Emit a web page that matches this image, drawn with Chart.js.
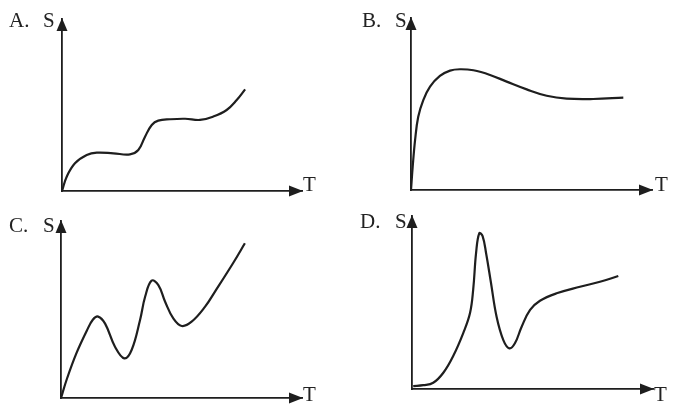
<!DOCTYPE html>
<html>
<head>
<meta charset="utf-8">
<script src="https://cdn.jsdelivr.net/npm/chart.js@4.4.0/dist/chart.umd.min.js"></script>
<style>
  html, body { margin: 0; padding: 0; background: #fff; }
  #page { position: relative; width: 679px; height: 412px; overflow: hidden; background: #fff; }
  .panel { position: absolute; }
  .lbl {
    position: absolute;
    font-family: "Liberation Serif", "DejaVu Serif", serif;
    font-size: 21px;
    line-height: 21px;
    color: #222;
    white-space: nowrap;
  }
</style>
</head>
<body>
<div id="page">
  <canvas id="chartA" class="panel" width="340" height="206" style="left:0;top:0"></canvas>
  <canvas id="chartB" class="panel" width="339" height="206" style="left:340px;top:0"></canvas>
  <canvas id="chartC" class="panel" width="340" height="206" style="left:0;top:206px"></canvas>
  <canvas id="chartD" class="panel" width="339" height="206" style="left:340px;top:206px"></canvas>

  <span class="lbl" style="left:9px;top:10px">A.</span>
  <span class="lbl" style="left:43px;top:10px">S</span>
  <span class="lbl" style="left:303px;top:174px">T</span>

  <span class="lbl" style="left:362px;top:10px">B.</span>
  <span class="lbl" style="left:395px;top:10px">S</span>
  <span class="lbl" style="left:655px;top:174px">T</span>

  <span class="lbl" style="left:9px;top:215px">C.</span>
  <span class="lbl" style="left:43px;top:215px">S</span>
  <span class="lbl" style="left:303px;top:384px">T</span>

  <span class="lbl" style="left:360px;top:211px">D.</span>
  <span class="lbl" style="left:395px;top:211px">S</span>
  <span class="lbl" style="left:654px;top:384px">T</span>
</div>

<script>
  'use strict';

  // Curve A: two plateaus, then rising
  const aT = [0, 1.96, 5.4, 10.3, 14.5, 21.4, 28.3, 31.8, 34.6, 37.4, 40.1, 45.0, 51.3, 57.5, 62.9, 68.6, 72.8, 76.3];
  const aS = [0, 8.3, 16.1, 20.9, 22.3, 21.9, 21.3, 23.8, 31.6, 38.4, 40.9, 41.7, 42.0, 41.3, 43.2, 47.1, 52.9, 59.1];

  // Curve B: fast rise, overshoot, level off
  const bT = [0, 0.7, 1.7, 3.0, 5.1, 7.9, 12.0, 16.2, 20.3, 25.9, 32.8, 39.7, 48.0, 56.3, 64.6, 75.6, 88.1];
  const bS = [0, 13.5, 29.1, 42.6, 52.3, 60.1, 66.3, 69.4, 70.2, 69.6, 66.9, 63.0, 58.5, 54.8, 53.1, 52.9, 53.7];

  // Curve C: oscillating upward
  const cT = [0, 2.4, 6.5, 10.7, 13.2, 15.4, 18.3, 22.4, 26.3, 29.3, 32.8, 34.9, 37.6, 40.4, 43.2, 46.6, 50.1, 54.2, 59.8, 63.9, 71.5, 76.3];
  const cS = [0, 10.6, 25.6, 38.0, 44.2, 46.0, 42.0, 29.0, 22.4, 27.1, 44.1, 57.2, 66.3, 63.8, 54.4, 45.0, 40.7, 43.1, 51.6, 60.1, 76.4, 87.4];

  // Curve D: sharp peak, dip, slow rise
  const dT = [0.5, 4.7, 8.8, 13.0, 17.1, 21.3, 24.1, 25.4, 26.6, 27.9, 29.3, 30.8, 32.7, 35.1, 37.9, 40.4, 42.7, 45.5, 49.0, 53.1, 60.0, 69.7, 78.0, 85.6];
  const dS = [1.7, 2.2, 3.6, 9.4, 19.1, 32.5, 44.1, 57.6, 78.8, 90.0, 88.4, 78.0, 62.0, 41.8, 28.3, 23.5, 26.4, 36.0, 45.7, 51.0, 55.3, 59.1, 62.0, 65.3];

  const ink = '#1e1e1e';

  // Arrowheads at the ends of both axes
  const axisArrows = {
    id: 'axisArrows',
    afterDraw: function (chart) {
      const a = chart.chartArea;
      const ctx = chart.ctx;
      ctx.save();
      ctx.fillStyle = ink;
      // up arrow on S axis
      ctx.beginPath();
      ctx.moveTo(a.left, a.top - 1);
      ctx.lineTo(a.left - 5.5, a.top + 12);
      ctx.lineTo(a.left + 5.5, a.top + 12);
      ctx.closePath();
      ctx.fill();
      // right arrow on T axis
      ctx.beginPath();
      ctx.moveTo(a.right + 1, a.bottom);
      ctx.lineTo(a.right - 13, a.bottom - 5.5);
      ctx.lineTo(a.right - 13, a.bottom + 5.5);
      ctx.closePath();
      ctx.fill();
      ctx.restore();
    }
  };

  function makePanel(id, tVals, sVals, pad) {
    const canvas = document.getElementById(id);
    const points = tVals.map((t, i) => ({ x: t, y: sVals[i] }));

    const axis = {
      type: 'linear',
      min: 0,
      max: 100,
      grid: { display: false, drawTicks: false },
      ticks: { display: false },
      border: { display: true, color: ink, width: 1.8 }
    };

    return new Chart(canvas.getContext('2d'), {
      type: 'scatter',
      data: {
        datasets: [{
          data: points,
          showLine: true,
          borderColor: ink,
          borderWidth: 2.2,
          pointRadius: 0,
          tension: 0.4,
          fill: false
        }]
      },
      options: {
        responsive: false,
        animation: false,
        devicePixelRatio: 1,
        layout: { padding: pad },
        plugins: {
          legend: { display: false },
          tooltip: { enabled: false },
          title: { display: false }
        },
        scales: {
          x: Object.assign({}, axis, { position: 'bottom' }),
          y: Object.assign({}, axis, { position: 'left' })
        }
      },
      plugins: [axisArrows]
    });
  }

  makePanel('chartA', aT, aS, { left: 62, top: 19, right: 38, bottom: 15 });
  makePanel('chartB', bT, bS, { left: 71, top: 18, right: 27, bottom: 16 });
  makePanel('chartC', cT, cS, { left: 61, top: 15, right: 38, bottom: 14 });
  makePanel('chartD', dT, dS, { left: 72, top: 10, right: 26, bottom: 23 });
</script>
</body>
</html>
